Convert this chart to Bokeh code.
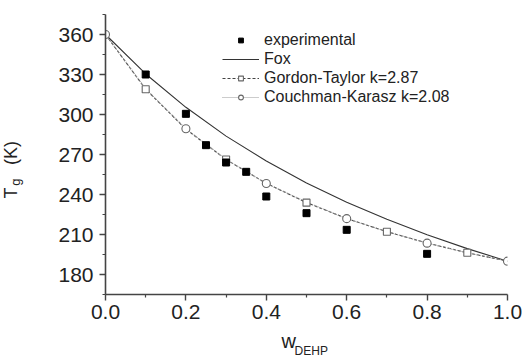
from bokeh.plotting import figure
from bokeh.models import Range1d, FixedTicker, Legend, LegendItem, Label
from bokeh.embed import file_html
from bokeh.resources import INLINE

# ---- data ----
exp_w = [0.1, 0.2, 0.25, 0.3, 0.35, 0.4, 0.5, 0.6, 0.8]
exp_tg = [330, 300.5, 277, 264, 257, 238.5, 226, 213.5, 195.5]

curve_w = [0.0, 0.1, 0.2, 0.3, 0.4, 0.5, 0.6, 0.7, 0.8, 0.9, 1.0]
fox_tg = [360, 330.4, 305.4, 283.8, 265.1, 248.7, 234.2, 221.4, 209.8, 199.4, 190]
gt_tg = [360, 318.9, 289.0, 266.2, 248.4, 233.9, 222.0, 212.1, 203.6, 196.3, 190]
ck_tg = [360, 319.2, 289.3, 266.3, 248.3, 234.3, 221.9, 212.2, 203.5, 196.2, 190]

gt_mark_w = [0.1, 0.3, 0.5, 0.7, 0.9]
gt_mark_tg = [318.9, 266.2, 233.9, 212.1, 196.3]
ck_mark_w = [0.0, 0.2, 0.4, 0.6, 0.8, 1.0]
ck_mark_tg = [360, 289.3, 248.3, 221.9, 203.5, 190]

x_ticks = [0.0, 0.2, 0.4, 0.6, 0.8, 1.0]
x_minor = [0.1, 0.3, 0.5, 0.7, 0.9]
y_ticks = [180, 210, 240, 270, 300, 330, 360]
y_minor = [165, 195, 225, 255, 285, 315, 345, 375]

FONT = "Liberation Sans"
W, H = 523, 357
FL, FR, FT, FB = 103, 507, 14, 297   # frame edges in pixels

p = figure(width=W, height=H, output_backend="svg", toolbar_location=None,
           x_range=Range1d(0.0, 1.0), y_range=Range1d(165, 375),
           min_border_left=FL, min_border_right=W - FR, min_border_top=FT,
           min_border_bottom=H - FB)
p.outline_line_color = None
p.xgrid.visible = False
p.ygrid.visible = False

for ax in (p.xaxis[0], p.yaxis[0]):
    ax.axis_line_color = "#444444"
    ax.axis_line_width = 1.6
    ax.major_tick_line_color = "#444444"
    ax.minor_tick_line_color = "#444444"
    ax.major_tick_line_width = 1.4
    ax.minor_tick_line_width = 1.2
    ax.major_tick_out = 6
    ax.major_tick_in = 0
    ax.minor_tick_out = 3
    ax.minor_tick_in = 0
    ax.major_label_text_font = FONT
    ax.major_label_text_font_size = "21px"
    ax.major_label_text_color = "#222222"

p.xaxis[0].ticker = FixedTicker(ticks=x_ticks, minor_ticks=x_minor)
p.yaxis[0].ticker = FixedTicker(ticks=y_ticks, minor_ticks=y_minor)
p.xaxis[0].major_label_standoff = 4
p.yaxis[0].major_label_standoff = 6
p.xaxis[0].major_label_overrides = {0.0: "0.0", 0.2: "0.2", 0.4: "0.4", 0.6: "0.6", 0.8: "0.8", 1.0: "1.0"}

fox = p.line(curve_w, fox_tg, line_color="#333333", line_width=1.1)
gt_line = p.line(curve_w, gt_tg, line_color="#444444", line_width=1.1, line_dash="3 2")
ck_line = p.line(curve_w, ck_tg, line_color="#999999", line_width=1.1, line_dash="1 1")
gt_pts = p.scatter(gt_mark_w, gt_mark_tg, marker="square", size=7, fill_color="white",
                   line_color="#666666", line_width=1.1)
ck_pts = p.scatter(ck_mark_w, ck_mark_tg, marker="circle", size=8, fill_color="white",
                   line_color="#666666", line_width=1.1)
exp = p.scatter(exp_w, exp_tg, marker="square", size=7, fill_color="black",
                line_color="black")

legend = Legend(items=[
    LegendItem(label="experimental", renderers=[exp]),
    LegendItem(label="Fox", renderers=[fox]),
    LegendItem(label="Gordon-Taylor k=2.87", renderers=[gt_line, gt_pts]),
    LegendItem(label="Couchman-Karasz k=2.08", renderers=[ck_line, ck_pts]),
], location=(117, 188))
legend.background_fill_alpha = 0
legend.border_line_color = None
legend.padding = 0
legend.margin = 0
legend.spacing = 0
legend.glyph_width = 37
legend.glyph_height = 12
legend.label_height = 19
legend.label_standoff = 5
legend.label_text_font = FONT
legend.label_text_font_size = "16px"
legend.label_text_color = "#222222"
p.add_layout(legend)

# axis titles with subscripts (pixel positions converted to data units)
def dx(px):
    return (px - FL) / float(FR - FL)

def dy(py):
    return 165 + (FB - py) * 210.0 / (FB - FT)

def lab(px, py, text, size, angle=0.0, baseline="alphabetic"):
    return Label(x=dx(px), y=dy(py), text=text, angle=angle, angle_units="rad",
                 text_font=FONT, text_font_size=size, text_color="#222222",
                 text_align="left", text_baseline=baseline)

p.add_layout(lab(8, 200, "T", "18px", 1.5708), "left")
p.add_layout(lab(13, 187, "g", "13px", 1.5708), "left")
p.add_layout(lab(8, 166, "(K)", "18px", 1.5708), "left")
p.add_layout(lab(280, 344, "w", "20px"), "below")
p.add_layout(lab(293, 347, "DEHP", "12px", baseline="top"), "below")

open("out.html", "w").write(file_html(p, INLINE))
